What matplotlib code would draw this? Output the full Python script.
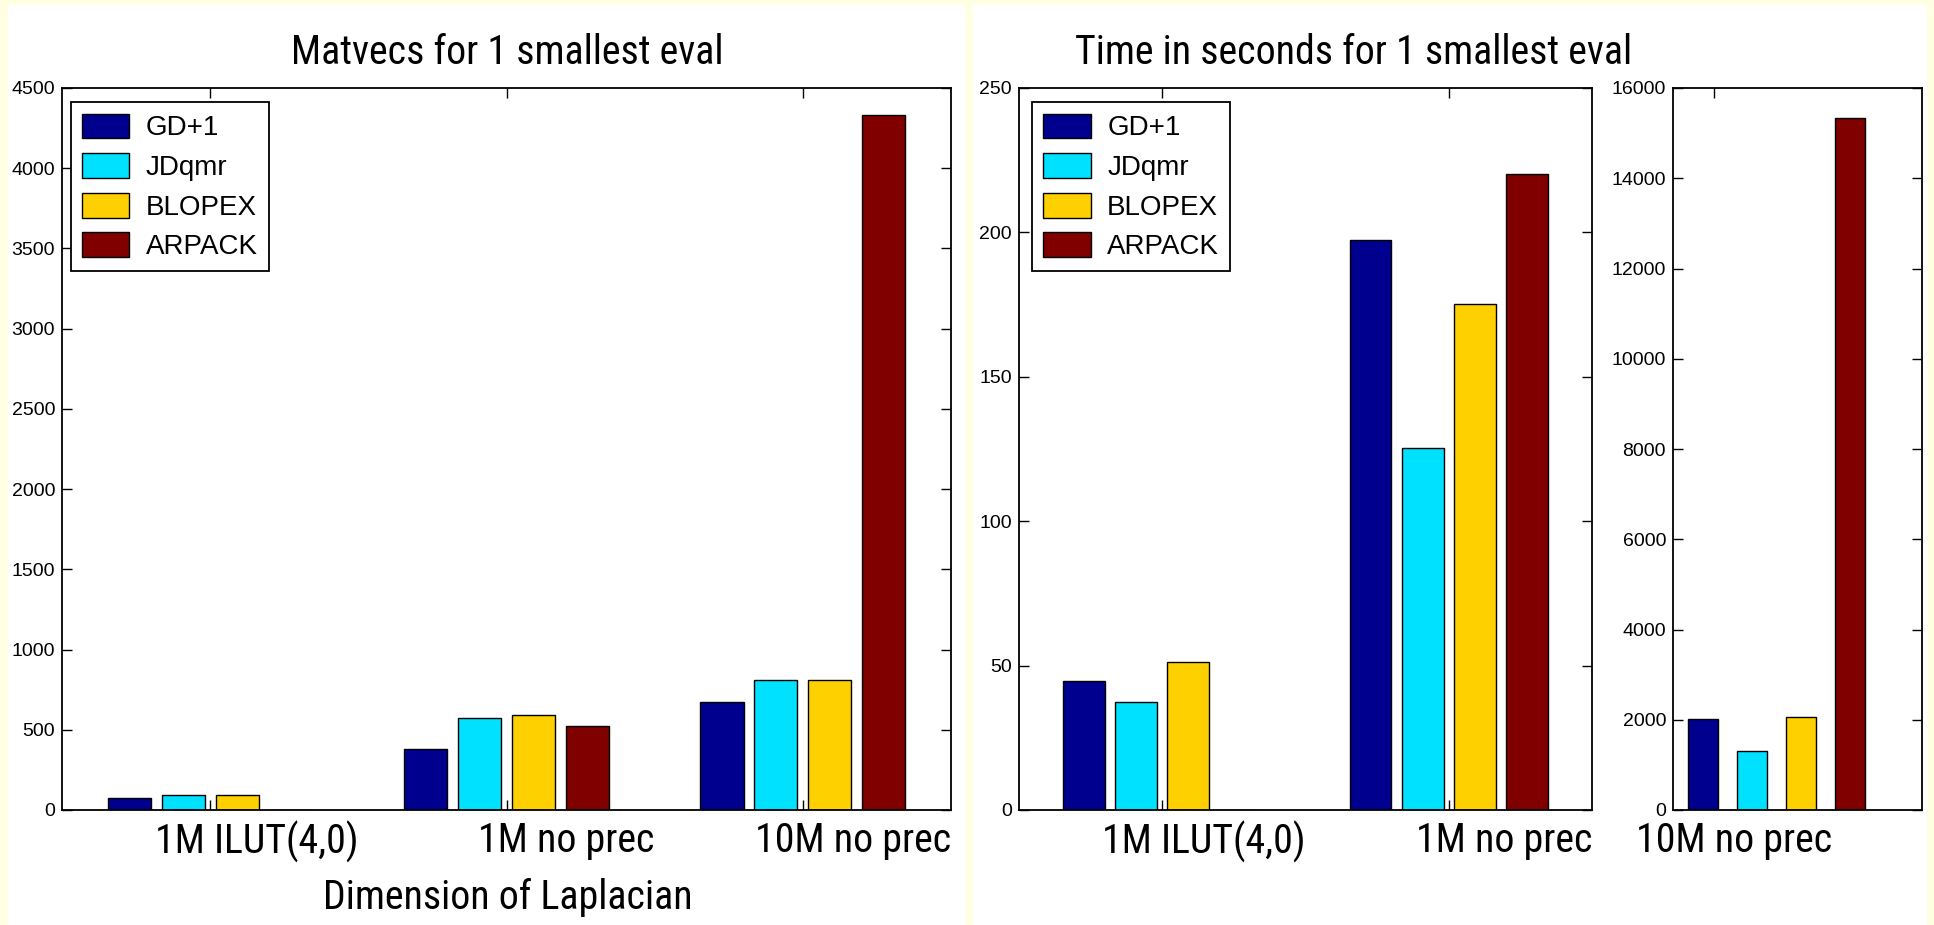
import numpy as np
import matplotlib.pyplot as plt
from matplotlib.patches import Rectangle
from matplotlib import font_manager

methods = ['GD+1', 'JDqmr', 'BLOPEX', 'ARPACK']
colors = ['#00008F', '#00E0FF', '#FFD000', '#800000']

# matvecs, left chart
cases_left = ['1M ILUT(4,0)', '1M no prec', '10M no prec']
mv_gd = [77, 381, 675]
mv_jd = [96, 575, 812]
mv_blopex = [96, 590, 812]
mv_arpack = [0, 523, 4330]

# time in seconds, 1M cases
cases_1m = ['1M ILUT(4,0)', '1M no prec']
t_gd = [44.5, 197.4]
t_jd = [37.4, 125.2]
t_blopex = [51.2, 175.2]
t_arpack = [0, 220.1]

# time in seconds, 10M case
cases_10m = ['10M no prec']
t10_gd = [2020]
t10_jd = [1310]
t10_blopex = [2070]
t10_arpack = [15330]

names = set(f.name for f in font_manager.fontManager.ttflist)
narrow = 'Liberation Sans'
for cand in ['Roboto Condensed', 'Barlow Condensed', 'Archivo Narrow']:
    if cand in names:
        narrow = cand
        break
plt.rcParams['font.family'] = ['Liberation Sans', 'DejaVu Sans']

W, H = 1934, 925
fig = plt.figure(figsize=(W / 100, H / 100), dpi=100)
fig.patch.set_facecolor('#FFFFE3')
fig.add_artist(Rectangle((8 / W, 0), (965 - 8) / W, 1 - 5 / H, transform=fig.transFigure,
                         facecolor='white', edgecolor='none', zorder=-5))
fig.add_artist(Rectangle((973 / W, 0), (1927 - 973) / W, 1 - 5 / H, transform=fig.transFigure,
                         facecolor='white', edgecolor='none', zorder=-5))

# pick the narrow font size so the right title is ~557 px wide, like the reference
renderer = fig.canvas.get_renderer()
probe = fig.text(0, 0, 'Time in seconds for 1 smallest eval', fontsize=30, family=narrow)
big = 30 * 557 / probe.get_window_extent(renderer).width
probe.remove()


def px_axes(x0, x1, top, bot):
    return fig.add_axes([x0 / W, 1 - bot / H, (x1 - x0) / W, (bot - top) / H])


def draw_bars(ax, series, ncat, wfac=0.8):
    x = np.arange(1, ncat + 1)
    step = 0.182
    handles = []
    for i, vals in enumerate(series):
        h = ax.bar(x + (i - 1.5) * step, vals, width=step * wfac, color=colors[i],
                   edgecolor='black', linewidth=1.0, label=methods[i], zorder=2)
        handles.append(h)
    return handles


def style(ax, yticks):
    ax.set_yticks(yticks)
    ax.set_ylim(yticks[0], yticks[-1])
    ax.tick_params(direction='in', top=True, right=True, length=7, width=1,
                   labelsize=14, pad=5)
    ax.set_xticklabels([])
    for s in ax.spines.values():
        s.set_linewidth(1.3)


def case_labels(ax, pos, labels, shift=0.5):
    for p, lab in zip(pos, labels):
        ax.text(p + shift, -0.015, lab, transform=ax.get_xaxis_transform(), ha='right', va='top',
                fontsize=big, family=narrow)


def add_legend(ax, handles, xa):
    leg = ax.legend(handles=handles, loc='upper left', bbox_to_anchor=(xa, 0.98),
                    borderaxespad=0, fontsize=20, handlelength=1.7, handleheight=1.0,
                    labelspacing=0.42, handletextpad=0.6, borderpad=0.4,
                    fancybox=False, framealpha=1, edgecolor='black')
    leg.get_frame().set_linewidth(1.3)


# left chart
ax1 = px_axes(62, 951, 88, 810)
hs = draw_bars(ax1, [mv_gd, mv_jd, mv_blopex, mv_arpack], 3)
ax1.set_xlim(0.5, 3.5)
ax1.set_xticks([1, 2, 3])
style(ax1, np.arange(0, 4501, 500))
case_labels(ax1, [1, 2, 3], cases_left)
add_legend(ax1, hs, 0.01)
fig.text(507 / W, 1 - 52 / H, 'Matvecs for 1 smallest eval', ha='center', va='center',
         fontsize=big, family=narrow)
fig.text(508 / W, 1 - 897 / H, 'Dimension of Laplacian', ha='center', va='center',
         fontsize=big, family=narrow)

# right chart, 1M cases
ax2 = px_axes(1019, 1592, 88, 810)
hs = draw_bars(ax2, [t_gd, t_jd, t_blopex, t_arpack], 2)
ax2.set_xlim(0.5, 2.5)
ax2.set_xticks([1, 2])
style(ax2, np.arange(0, 251, 50))
case_labels(ax2, [1, 2], cases_1m)
add_legend(ax2, hs, 0.023)

# right chart, 10M case
ax3 = px_axes(1673, 1922, 88, 810)
draw_bars(ax3, [t10_gd, t10_jd, t10_blopex, t10_arpack], 1, wfac=0.62)
ax3.set_xlim(0.615, 1.54)
ax3.set_xticks([0.767])
style(ax3, np.arange(0, 16001, 2000))
case_labels(ax3, [0.767], cases_10m, shift=0.44)

fig.text(1354 / W, 1 - 52 / H, 'Time in seconds for 1 smallest eval', ha='center', va='center',
         fontsize=big, family=narrow)

fig.savefig('out.png', dpi=100, facecolor=fig.get_facecolor())
